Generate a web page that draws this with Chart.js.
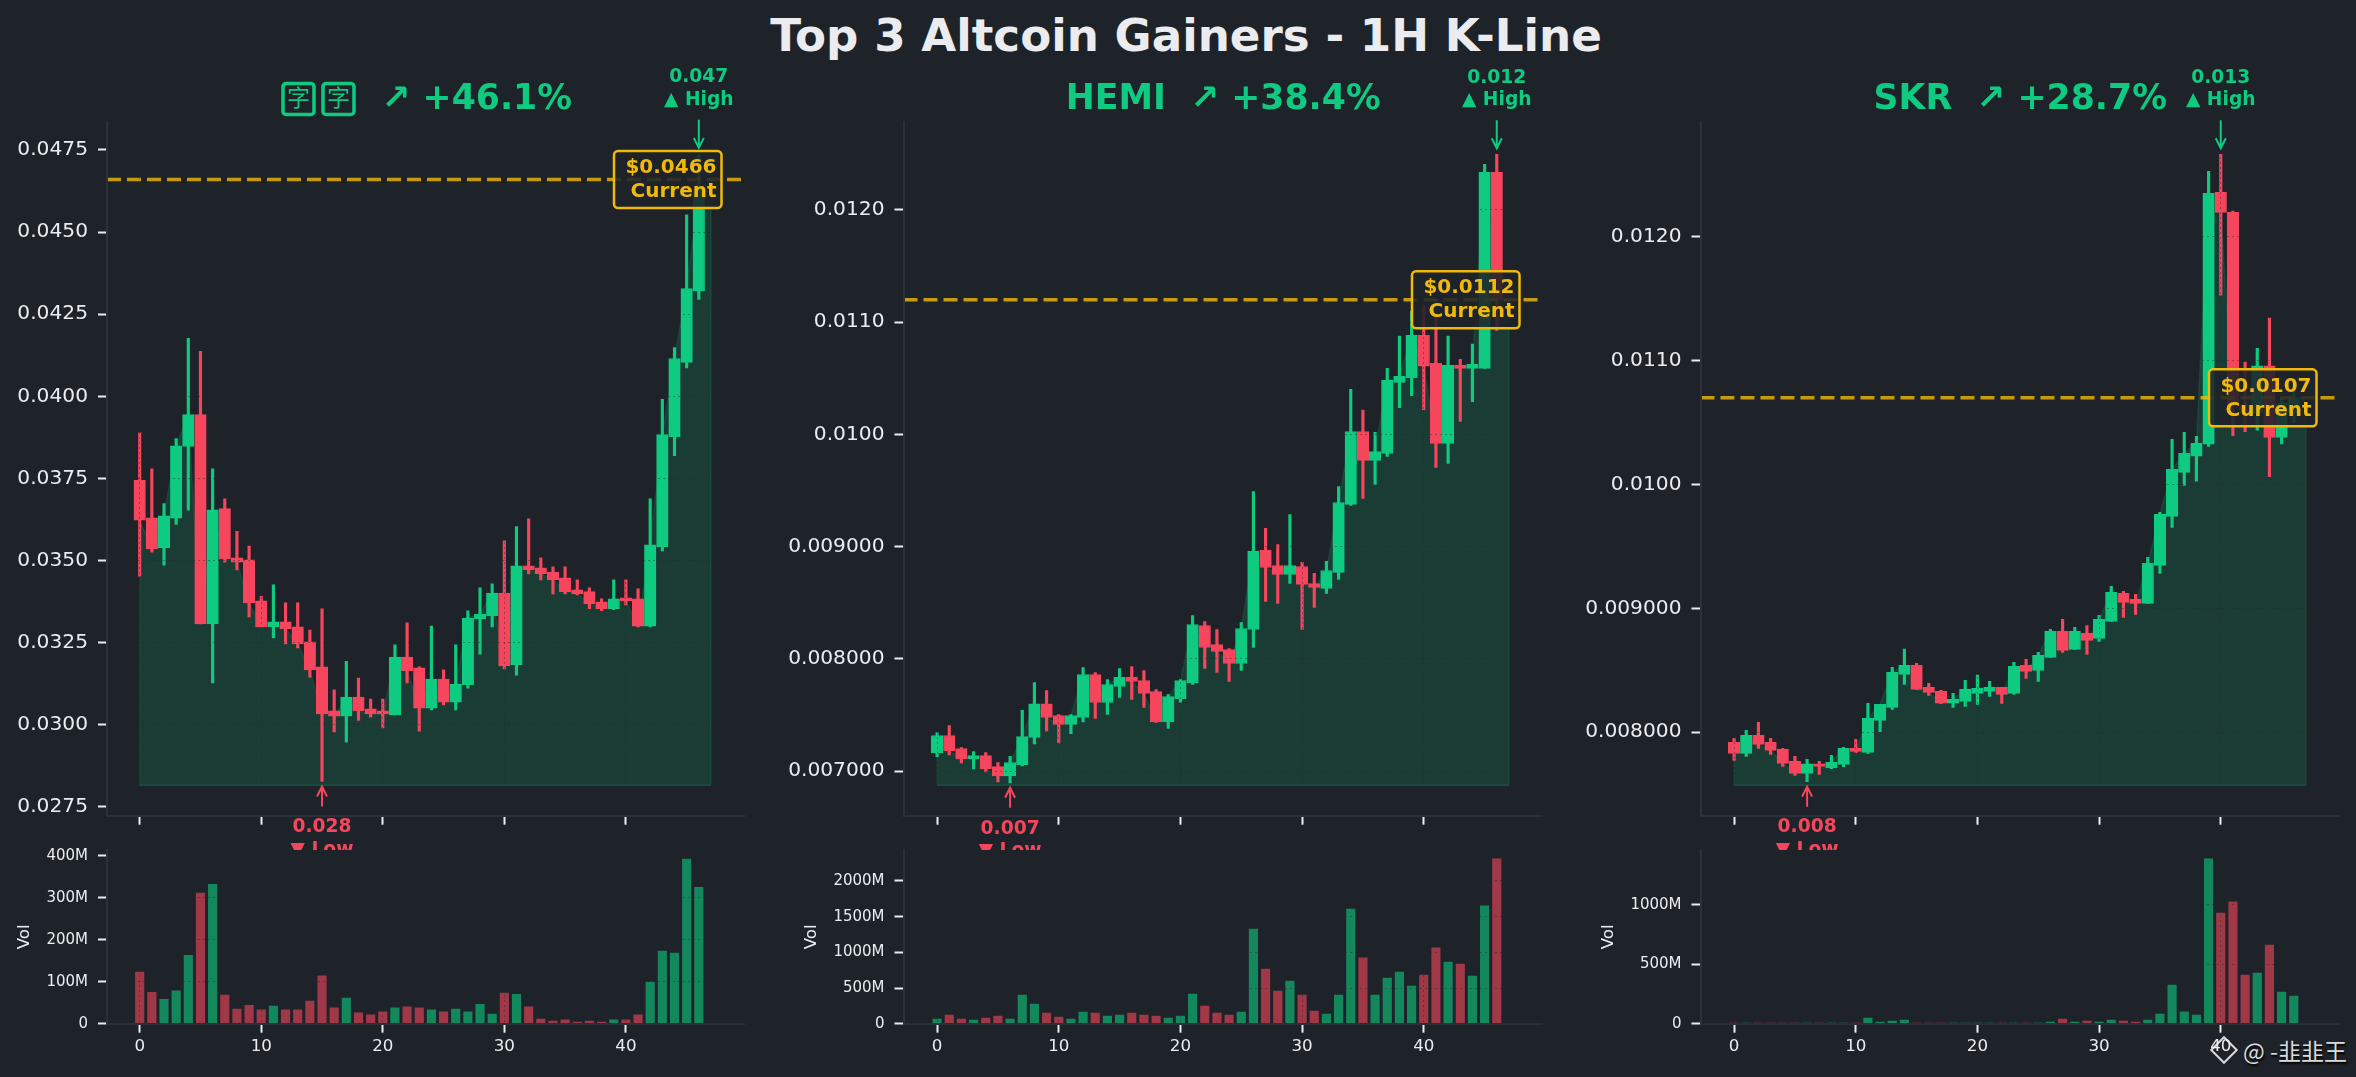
<!DOCTYPE html>
<html>
<head>
<meta charset="utf-8">
<title>Top 3 Altcoin Gainers - 1H K-Line</title>
<script src="https://cdn.jsdelivr.net/npm/chart.js@4/dist/chart.umd.js"></script>
<style>
  html, body { margin: 0; padding: 0; background: #1e2329; width: 2356px; height: 1077px; overflow: hidden; }
  h1 { position: absolute; left: 0; top: 10px; width: 2372px; margin: 0; text-align: center; color: #eaecef;
       font: bold 45.2px "DejaVu Sans"; line-height: 52px; }
  canvas { position: absolute; }
  #mark { position: absolute; left: 2243px; top: 1035px; color: #d9dadb; font: 23px "Noto Sans CJK SC", "DejaVu Sans";
          line-height: 30px; text-shadow: 1px 2px 2px #000; white-space: nowrap; }
  #logo { position: absolute; left: 2214px; top: 1040px; width: 16px; height: 16px; border: 2px solid #d9dadb; transform: rotate(45deg); }
</style>
</head>
<body>
<h1>Top 3 Altcoin Gainers - 1H K-Line</h1>
<div id="logo"></div>
<div id="mark">@ -韭韭王</div>
<script>
const pepeOpen = [.03744,.03630,.03538,.03629,.03847,.03944,.03307,.03658,.03508,.03502,.03377,.03298,.03313,.03298,.03252,.03176,.03042,.03026,.03084,.03048,.03042,.03030,.03206,.03173,.03050,.03139,.03069,.03121,.03322,.03331,.03401,.03182,.03484,.03478,.03465,.03447,.03411,.03405,.03374,.03353,.03386,.03383,.03300,.03542,.03877,.04103,.04321];
const pepeHigh = [.03889,.03779,.03673,.03871,.04176,.04137,.03779,.03688,.03589,.03544,.03391,.03426,.03371,.03371,.03288,.03353,.03106,.03193,.03142,.03078,.03078,.03243,.03310,.03176,.03300,.03167,.03243,.03347,.03417,.03429,.03560,.03603,.03627,.03508,.03481,.03481,.03441,.03417,.03383,.03441,.03441,.03414,.03688,.03991,.04148,.04552,.04738];
const pepeLow = [.03452,.03525,.03486,.03610,.03653,.03307,.03127,.03495,.03471,.03328,.03298,.03264,.03246,.03234,.03145,.02827,.02978,.02947,.03013,.03023,.02990,.03030,.03127,.02980,.03045,.03060,.03045,.03111,.03215,.03298,.03170,.03151,.03459,.03441,.03398,.03398,.03395,.03353,.03347,.03350,.03365,.03298,.03298,.03529,.03819,.04086,.04295];
const pepeClose = [.03623,.03535,.03636,.03849,.03944,.03307,.03654,.03505,.03495,.03371,.03298,.03313,.03292,.03246,.03167,.03033,.03026,.03084,.03042,.03033,.03033,.03206,.03164,.03050,.03139,.03069,.03124,.03325,.03337,.03401,.03179,.03484,.03472,.03459,.03441,.03405,.03398,.03368,.03353,.03383,.03377,.03300,.03548,.03883,.04115,.04328,.04628];
const pepeVol = [123,75,58,78,163,311,332,68,35,44,33,42,33,33,54,114,38,61,26,21,28,38,40,38,33,28,35,28,46,23,73,70,40,11,6,9,4,6,4,9,9,21,99,173,168,392,325];

const hemiOpen = [.007162,.007317,.007201,.007109,.007138,.007040,.006957,.007055,.007299,.007599,.007495,.007415,.007477,.007860,.007611,.007753,.007834,.007807,.007709,.007438,.007646,.007786,.008297,.008128,.008083,.007958,.008261,.008966,.008832,.008752,.008823,.008671,.008627,.008770,.009376,.010026,.009768,.009830,.010464,.010506,.010883,.010633,.009920,.010616,.010589,.010589,.012336];
const hemiHigh = [.007343,.007406,.007210,.007174,.007165,.007076,.007130,.007540,.007789,.007718,.007504,.007504,.007923,.007878,.007816,.007914,.007932,.007896,.007727,.007682,.007816,.008386,.008333,.008261,.008092,.008324,.009491,.009162,.009019,.009286,.008859,.008761,.008868,.009536,.010402,.010217,.010018,.010589,.010877,.011100,.011150,.011050,.010877,.010669,.010806,.012407,.012496];
const hemiLow = [.007127,.007144,.007073,.007020,.006993,.006904,.006895,.007046,.007242,.007358,.007251,.007332,.007438,.007468,.007504,.007655,.007638,.007566,.007433,.007379,.007611,.007771,.007914,.007878,.007798,.007896,.008101,.008511,.008493,.008671,.008261,.008458,.008582,.008707,.009367,.009429,.009554,.009803,.010238,.010345,.010220,.009705,.009741,.010116,.010292,.010589,.010927];
const hemiClose = [.007317,.007180,.007109,.007138,.007020,.006957,.007076,.007308,.007599,.007477,.007415,.007495,.007860,.007611,.007771,.007834,.007798,.007691,.007438,.007664,.007807,.008306,.008101,.008065,.007958,.008270,.008957,.008814,.008752,.008832,.008663,.008636,.008787,.009393,.010026,.009768,.009848,.010482,.010517,.010883,.010607,.009920,.010616,.010589,.010624,.012336,.011200];
const hemiVol = [65,121,65,51,79,107,65,402,276,150,93,65,164,150,107,121,150,121,107,79,107,416,248,150,121,164,1327,766,458,598,402,178,136,402,1607,921,402,640,724,528,682,1061,864,836,668,1650,2308];

const skrOpen = [.007916,.007828,.007973,.007916,.007860,.007763,.007666,.007744,.007712,.007739,.007868,.007836,.008094,.008199,.008466,.008539,.008361,.008329,.008234,.008248,.008312,.008329,.008361,.008312,.008539,.008498,.008603,.008813,.008668,.008797,.008757,.008894,.009121,.009072,.009040,.009347,.009743,.010098,.010228,.010325,.012361,.012199,.010640,.010580,.010958,.010381,.010580];
const skrHigh = [.007949,.008013,.008078,.007949,.007868,.007803,.007779,.007763,.007811,.007876,.007941,.008232,.008224,.008523,.008670,.008555,.008393,.008337,.008312,.008417,.008460,.008409,.008361,.008563,.008587,.008644,.008830,.008910,.008846,.008860,.008943,.009177,.009137,.009112,.009411,.009775,.010365,.010422,.010389,.012531,.012668,.012210,.010990,.011100,.011345,.010700,.010750];
const skrLow = [.007771,.007803,.007868,.007820,.007723,.007650,.007599,.007658,.007704,.007720,.007833,.007828,.008003,.008183,.008385,.008345,.008296,.008229,.008199,.008207,.008224,.008288,.008232,.008304,.008434,.008409,.008603,.008644,.008668,.008628,.008733,.008894,.008927,.008951,.009040,.009282,.009654,.009993,.010026,.010308,.011529,.010395,.010427,.010440,.010063,.010327,.010500];
const skrClose = [.007828,.007973,.007900,.007852,.007747,.007666,.007744,.007723,.007755,.007868,.007844,.008110,.008224,.008482,.008539,.008345,.008321,.008234,.008264,.008345,.008353,.008361,.008304,.008531,.008490,.008620,.008813,.008660,.008813,.008740,.008910,.009129,.009048,.009040,.009363,.009759,.010123,.010252,.010333,.012353,.012199,.010640,.010580,.010958,.010381,.010660,.010700];
const skrVol = [1,1,1,1,1,1,1,1,1,1,1,47,14,22,31,1,1,1,1,1,1,1,1,1,1,1,14,39,14,22,14,31,22,14,31,81,326,99,73,1388,932,1025,410,427,662,266,233];

const pepeTicks = [.0275,.03,.0325,.035,.0375,.04,.0425,.045,.0475];
const pepeTickLabels = ['0.0275','0.0300','0.0325','0.0350','0.0375','0.0400','0.0425','0.0450','0.0475'];
const hemiTicks = [.007,.008,.009,.01,.011,.012];
const hemiTickLabels = ['0.007000','0.008000','0.009000','0.0100','0.0110','0.0120'];
const skrTicks = [.008,.009,.01,.011,.012];
const skrTickLabels = ['0.008000','0.009000','0.0100','0.0110','0.0120'];
const pepeVolTicks = [0,100,200,300,400];
const hemiVolTicks = [0,500,1000,1500,2000];
const skrVolTicks = [0,500,1000];
const indexTicks = [0,10,20,30,40];

const GREEN = '#0ecb81', RED = '#f6465d', GOLD = '#f0b90b', TEXT = '#eaecef', SPINE = '#2b3139';
const FONT = '"DejaVu Sans"';

// axis limits and where each panel sits on the page
const panels = [
  { name: '', change: '↗ +46.1%', open: pepeOpen, high: pepeHigh, low: pepeLow, close: pepeClose, vol: pepeVol,
    ticks: pepeTicks, tickLabels: pepeTickLabels, volTicks: pepeVolTicks, yMin: .02723, yMax: .04835, volMax: 413.7, xMin: -2.69, xMax: 49.8,
    current: .0466, currentLabel: '$0.0466', base: .02816, highLabel: '0.047', lowLabel: '0.028',
    left: 0, plotLeft: 107, plotRight: 745, volPad: 15 },
  { name: 'HEMI', change: '↗ +38.4%', open: hemiOpen, high: hemiHigh, low: hemiLow, close: hemiClose, vol: hemiVol,
    ticks: hemiTicks, tickLabels: hemiTickLabels, volTicks: hemiVolTicks, yMin: .006602, yMax: .012784, volMax: 2433, xMin: -2.76, xMax: 49.8,
    current: .0112, currentLabel: '$0.0112', base: .006873, highLabel: '0.012', lowLabel: '0.007',
    left: 760, plotLeft: 903.5, plotRight: 1542.5, volPad: 42 },
  { name: 'SKR', change: '↗ +28.7%', open: skrOpen, high: skrHigh, low: skrLow, close: skrClose, vol: skrVol,
    ticks: skrTicks, tickLabels: skrTickLabels, volTicks: skrVolTicks, yMin: .007324, yMax: .012929, volMax: 1462, xMin: -2.76, xMax: 49.8,
    current: .0107, currentLabel: '$0.0107', base: .00757, highLabel: '0.013', lowLabel: '0.008',
    left: 1555, plotLeft: 1700.5, plotRight: 2339.5, volPad: 44 }
];

const arrow = (ctx, x, y1, y2) => {
  const dir = y2 > y1 ? 1 : -1;
  ctx.lineWidth = 2;
  ctx.beginPath();
  ctx.moveTo(x, y1);
  ctx.lineTo(x, y2);
  ctx.moveTo(x - 5, y2 - dir * 10);
  ctx.lineTo(x, y2);
  ctx.lineTo(x + 5, y2 - dir * 10);
  ctx.stroke();
};

const notesPlugin = {
  id: 'notes',
  afterDraw(chart, args, opts) {
    const { ctx, scales: { x, y }, chartArea } = chart;
    const p = opts.panel;
    const center = (chartArea.left + chartArea.right) / 2;
    ctx.save();
    ctx.textBaseline = 'alphabetic';

    // panel title
    ctx.fillStyle = GREEN;
    ctx.strokeStyle = GREEN;
    ctx.font = 'bold 34.7px ' + FONT;
    if (p.name) {
      ctx.textAlign = 'center';
      ctx.fillText(p.name + '  ' + p.change, center, 108.5 - 56);
    } else {
      ctx.textAlign = 'right';
      ctx.fillText(p.change, center + 146, 108.5 - 56);
      // the first symbol rendered as two boxed glyphs in the source
      ctx.font = '23px "Noto Sans CJK SC"';
      ctx.textAlign = 'center';
      ctx.lineWidth = 3.5;
      [-127.5, -87.5].forEach(dx => {
        ctx.beginPath();
        ctx.roundRect(center + dx - 15.5, 83.5 - 56, 31, 31, 3);
        ctx.stroke();
        ctx.fillText('字', center + dx, 106 - 56);
      });
    }

    // high marker
    const maxHigh = Math.max(...p.high), maxAt = p.high.indexOf(maxHigh);
    const minLow = Math.min(...p.low), minAt = p.low.indexOf(minLow);
    const hx = x.getPixelForValue(maxAt), hy = y.getPixelForValue(maxHigh);
    ctx.strokeStyle = GREEN;
    arrow(ctx, hx, hy - 34, hy - 6);
    ctx.textAlign = 'center';
    ctx.font = 'bold 18.7px ' + FONT;
    ctx.fillText(p.highLabel, hx, hy - 71.5);
    ctx.fillText('▲ High', hx, hy - 49);

    // low marker, cut off by the volume panel below
    const lx = x.getPixelForValue(minAt), ly = y.getPixelForValue(minLow);
    ctx.strokeStyle = RED;
    ctx.fillStyle = RED;
    arrow(ctx, lx, ly + 25, ly + 5);
    ctx.fillText(p.lowLabel, lx, ly + 50.7);
    ctx.fillText('▼ Low', lx, ly + 73);

    // current price box
    const cy = y.getPixelForValue(p.current);
    const boxRight = chartArea.right - 23.5;
    ctx.beginPath();
    ctx.roundRect(boxRight - 107.5, cy - 28.5, 107.5, 57, 4);
    ctx.fillStyle = 'rgba(30,35,41,0.88)';
    ctx.fill();
    ctx.strokeStyle = GOLD;
    ctx.lineWidth = 2.5;
    ctx.stroke();
    ctx.fillStyle = GOLD;
    ctx.textAlign = 'right';
    ctx.font = 'bold 20px ' + FONT;
    ctx.fillText(p.currentLabel, boxRight - 5, cy - 6.3);
    ctx.fillText('Current', boxRight - 5, cy + 17.7);
    ctx.restore();
  }
};

const makeCanvas = (left, top, width, height) => {
  const c = document.createElement('canvas');
  c.width = width;
  c.height = height;
  c.style.left = left + 'px';
  c.style.top = top + 'px';
  c.style.width = width + 'px';
  c.style.height = height + 'px';
  document.body.appendChild(c);
  return c;
};

const gridOpts = { z: 1, color: 'rgba(30,35,41,0.4)', tickColor: TEXT, tickWidth: 2, tickLength: 9 };
// border z has to follow grid z, the border position is worked out while the grid draws
const borderOpts = { z: 1, color: SPINE, width: 2, dash: [2, 3] };

panels.forEach(p => {
  const width = Math.ceil(p.plotRight - p.left);
  const yWidth = p.plotLeft - p.left;
  const candleColors = p.open.map((o, i) => p.close[i] >= o ? GREEN : RED);
  const volColors = p.open.map((o, i) => p.close[i] >= o ? 'rgba(14,203,129,0.6)' : 'rgba(246,70,93,0.6)');
  const closes = p.close.concat(p.current);
  const areaPoints = [{ x: 0, y: p.base }, ...closes.map((c, i) => ({ x: i, y: c })), { x: closes.length - 1, y: p.base }];

  new Chart(makeCanvas(p.left, 56, width, 794), {
    type: 'bar',
    data: {
      datasets: [
        { type: 'line', data: areaPoints, order: 5, fill: { value: p.base }, backgroundColor: 'rgba(14,203,129,0.15)',
          borderColor: 'rgba(14,203,129,0.15)', borderWidth: 1.5, pointRadius: 0, tension: 0 },
        { type: 'line', data: [{ x: 0, y: p.base }, { x: closes.length - 1, y: p.base }], order: 5,
          borderColor: 'rgba(14,203,129,0.2)', borderWidth: 1.5, pointRadius: 0 },
        { data: p.high.map((h, i) => ({ x: i, y: [p.low[i], h] })), order: 4, grouped: false, barThickness: 2.5,
          backgroundColor: candleColors, borderWidth: 0 },
        { data: p.open.map((o, i) => ({ x: i, y: [o, p.close[i]] })), order: 3, grouped: false, barThickness: 11.5,
          backgroundColor: candleColors, borderColor: candleColors, borderWidth: 1, borderSkipped: false },
        { type: 'line', data: [{ x: p.xMin, y: p.current }, { x: p.xMax, y: p.current }], order: 2,
          borderColor: 'rgba(240,185,11,0.8)', borderWidth: 3.5, borderDash: [14, 6], pointRadius: 0 }
      ]
    },
    options: {
      responsive: false,
      animation: false,
      devicePixelRatio: 1,
      layout: { padding: { top: 66, left: 0, right: 0, bottom: 0 } },
      plugins: { legend: { display: false }, tooltip: { enabled: false }, notes: { panel: p } },
      scales: {
        x: {
          type: 'linear', min: p.xMin, max: p.xMax, offset: false,
          afterBuildTicks: s => { s.ticks = indexTicks.map(v => ({ value: v })); },
          afterFit: s => { s.height = 34.3; },
          ticks: { display: false },
          grid: { ...gridOpts, offset: false },
          border: borderOpts
        },
        y: {
          min: p.yMin, max: p.yMax,
          afterBuildTicks: s => { s.ticks = p.ticks.map(v => ({ value: v })); },
          afterFit: s => { s.width = yWidth; },
          ticks: {
            padding: 10, color: TEXT, font: { family: FONT, size: 20.2 },
            callback: v => p.tickLabels[p.ticks.indexOf(v)]
          },
          grid: gridOpts,
          border: borderOpts
        }
      }
    },
    plugins: [notesPlugin]
  });

  // the axis label height pushes the plot top down to 19px in this canvas, so 831 + 19 = 850
  new Chart(makeCanvas(p.left, 831, width, 246), {
    type: 'bar',
    data: {
      datasets: [{ data: p.vol.map((v, i) => ({ x: i, y: v })), barThickness: 8.5, backgroundColor: volColors, borderWidth: 0 }]
    },
    options: {
      responsive: false,
      animation: false,
      devicePixelRatio: 1,
      layout: { padding: { top: 12, left: 0, right: 0, bottom: 0 } },
      plugins: { legend: { display: false }, tooltip: { enabled: false } },
      scales: {
        x: {
          type: 'linear', min: p.xMin, max: p.xMax, offset: false,
          afterBuildTicks: s => { s.ticks = indexTicks.map(v => ({ value: v })); },
          afterFit: s => { s.height = 53.3; },
          ticks: { padding: 4, maxRotation: 0, autoSkip: false, color: TEXT, font: { family: FONT, size: 16.7 } },
          grid: { ...gridOpts, offset: false },
          border: borderOpts
        },
        y: {
          min: 0, max: p.volMax,
          afterBuildTicks: s => { s.ticks = p.volTicks.map(v => ({ value: v })); },
          afterFit: s => { s.width = yWidth; },
          title: { display: true, text: 'Vol', color: TEXT, font: { family: FONT, size: 16.7 }, padding: { top: p.volPad, bottom: 0 } },
          ticks: {
            padding: 10, color: TEXT, font: { family: FONT, size: 15 },
            callback: v => v === 0 ? '0' : v + 'M'
          },
          grid: gridOpts,
          border: borderOpts
        }
      }
    }
  });
});
</script>
</body>
</html>
